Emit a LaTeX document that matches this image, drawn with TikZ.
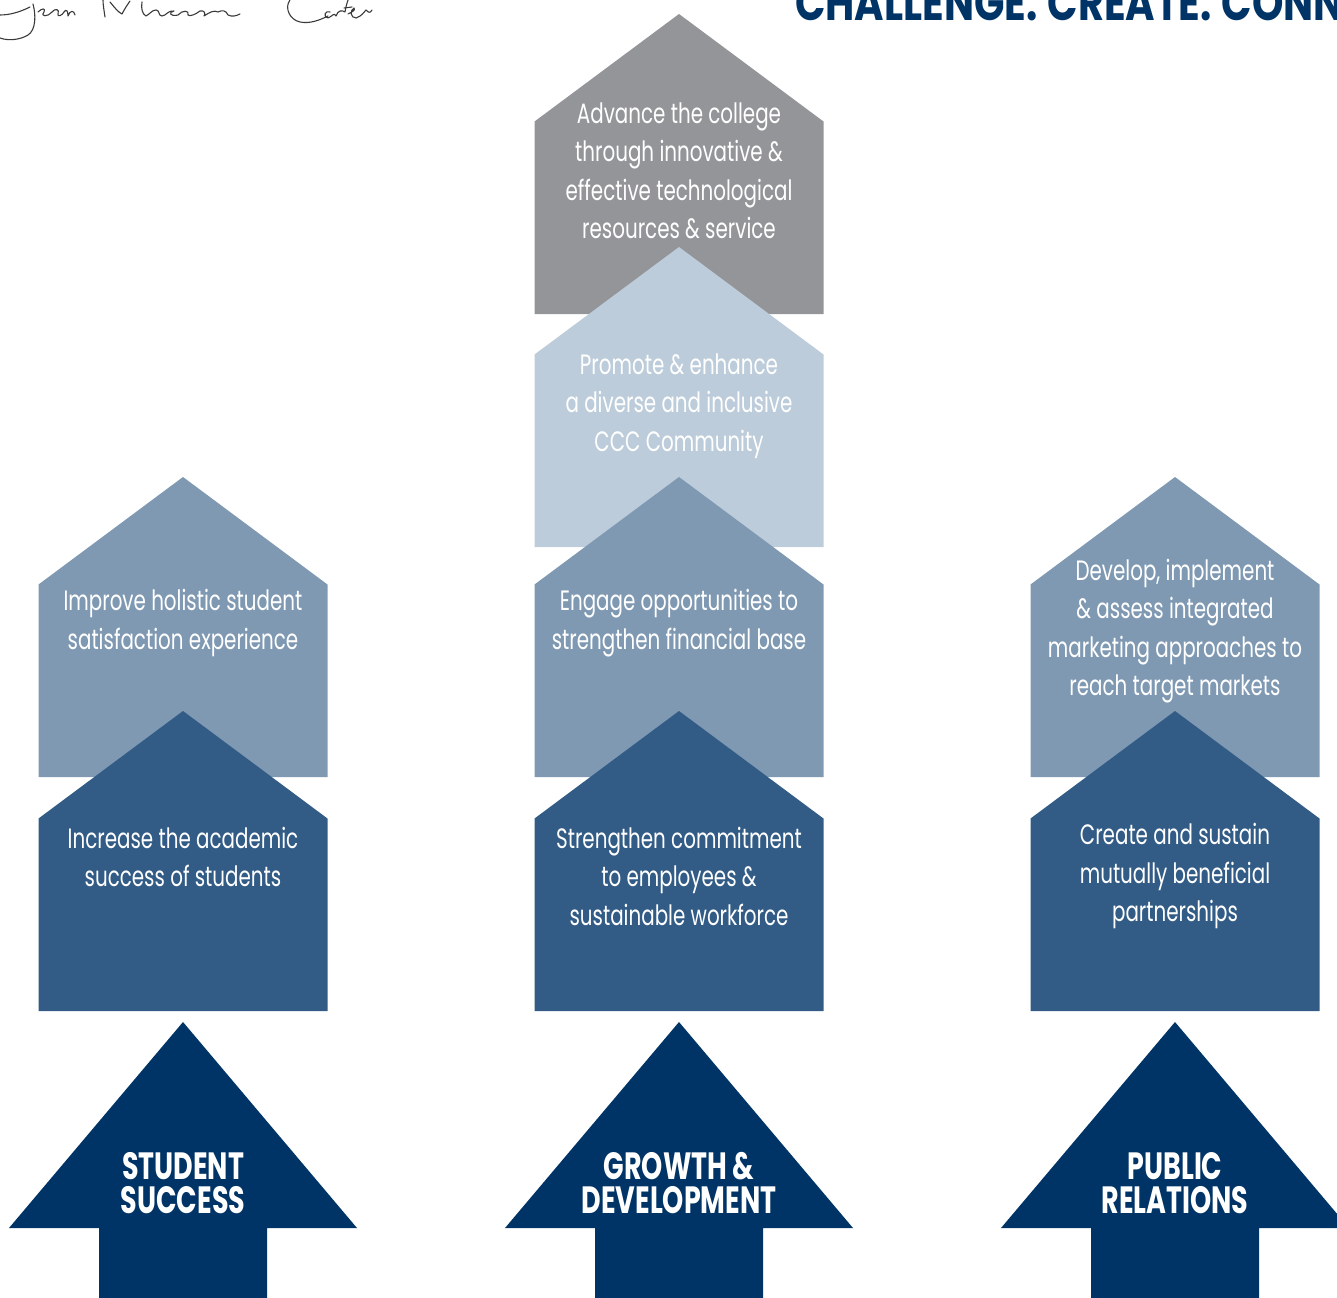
\documentclass[tikz,border=0pt]{standalone}
\usepackage{fontspec}
\setmainfont{Poppins}[FakeStretch=0.71]
\newfontfamily\titlefont{Poppins}[FakeStretch=0.8]
\definecolor{cgray}{HTML}{939598}
\definecolor{cpale}{HTML}{BDCCDA}
\definecolor{cmid}{HTML}{7F99B3}
\definecolor{cdark}{HTML}{325C86}
\definecolor{cnavy}{HTML}{003466}
\definecolor{cink}{HTML}{3A3A3A}
\newcommand\pentashape[3]{%
  \fill[#3] (#1,#2) -- (#1+144.5,#2+107.5) -- (#1+144.5,#2+300) -- (#1-144.5,#2+300) -- (#1-144.5,#2+107.5) -- cycle;}
\newcommand\arrowshape[1]{%
  \fill[cnavy] (#1,1022) -- (#1+174,1228) -- (#1+84,1228) -- (#1+84,1300) -- (#1-84,1300) -- (#1-84,1228) -- (#1-174,1228) -- cycle;}
\tikzset{
  goaltext/.style={text=white, align=center, inner sep=0pt,
    font=\fontsize{28}{38.5}\selectfont},
  pillartext/.style={text=white, anchor=base, inner sep=0pt,
    font=\bfseries\fontsize{38}{38}\selectfont},
  sigline/.style={draw=cink, line width=1.1pt, line cap=round, line join=round}
}
\begin{document}
\begin{tikzpicture}[x=1pt,y=-1pt]
\useasboundingbox (0,0) rectangle (1337,1297);
% title
\node[anchor=base west, inner sep=0pt, text=cnavy, font=\titlefont\bfseries\fontsize{50}{50}\selectfont] (title) at (795,21) {CHALLENGE.\hspace{10pt}CREATE.\hspace{10pt}CONNECT.};
% signature
\draw[sigline] (0,15) .. controls (10,15) and (20,12) .. (30,7);
\draw[sigline] (33,4) .. controls (36,15) and (36,30) .. (28,35) .. controls (20,40) and (8,41) .. (0,38);
\draw[sigline] (38,12) .. controls (42,8) and (46,8) .. (44,12) .. controls (40,17) and (48,17) .. (52,12) .. controls (55,8) and (60,9) .. (58,14) .. controls (57,17) and (62,16) .. (64,12) .. controls (66,9) and (68,10) .. (68,16) .. controls (70,10) and (74,10) .. (75,15);
\draw[sigline] (105,17) .. controls (104,10) and (103,5) .. (103,0);
\draw[sigline] (110,2) .. controls (115,8) and (118,12) .. (122,14) .. controls (125,8) and (128,4) .. (130,1);
\draw[sigline] (142,2) .. controls (141,8) and (142,14) .. (146,16) .. controls (150,14) and (152,10) .. (156,10) .. controls (160,10) and (158,16) .. (162,16) .. controls (166,16) and (168,10) .. (174,11) .. controls (168,12) and (170,17) .. (178,15) .. controls (182,10) and (190,10) .. (188,15) .. controls (190,17) and (196,14) .. (200,11) .. controls (204,10) and (206,13) .. (204,16) .. controls (210,12) and (214,10) .. (218,12) .. controls (222,10) and (226,10) .. (228,15) .. controls (232,17) and (236,16) .. (240,14);
\draw[sigline] (290,0) .. controls (284,8) and (290,20) .. (300,22) .. controls (310,24) and (320,20) .. (328,16);
\draw[sigline] (330,12) .. controls (326,10) and (322,16) .. (328,18) .. controls (333,16) and (334,12) .. (336,16) .. controls (338,10) and (342,10) .. (345,12) .. controls (346,6) and (347,3) .. (348,0);
\draw[sigline] (344,8) -- (352,7);
\draw[sigline] (348,14) .. controls (352,12) and (356,10) .. (354,8) .. controls (350,10) and (350,18) .. (356,18) .. controls (362,16) and (364,12) .. (366,10) .. controls (368,12) and (370,14) .. (372,10);
% column 1
\pentashape{183}{477}{cmid}
\node[goaltext] (g1a) at (183,623) {Improve holistic student\\satisfaction experience};
\pentashape{183}{711}{cdark}
\node[goaltext] (g1b) at (183,857) {Increase the academic\\success of students};
\arrowshape{183}
\node[pillartext] (p1a) at (183,1179) {STUDENT};
\node[pillartext] (p1b) at (183,1213) {SUCCESS};
% column 2
\pentashape{679}{14}{cgray}
\node[goaltext] (g2a) at (679,171) {Advance the college\\through innovative \&\\effective technological\\resources \& service};
\pentashape{679}{247}{cpale}
\node[goaltext] (g2b) at (679,406) {Promote \& enhance\\a diverse and inclusive\\CCC Community};
\pentashape{679}{477}{cmid}
\node[goaltext] (g2c) at (679,623) {Engage opportunities to\\strengthen financial base};
\pentashape{679}{711}{cdark}
\node[goaltext] (g2d) at (679,876) {Strengthen commitment\\to employees \&\\sustainable workforce};
\arrowshape{679}
\node[pillartext] (p2a) at (679,1179) {GROWTH \&};
\node[pillartext] (p2b) at (679,1213) {DEVELOPMENT};
% column 3
\pentashape{1175}{477}{cmid}
\node[goaltext] (g3a) at (1175,631) {Develop, implement\\\& assess integrated\\marketing approaches to\\reach target markets};
\pentashape{1175}{711}{cdark}
\node[goaltext] (g3b) at (1175,876) {Create and sustain\\mutually beneficial\\partnerships};
\arrowshape{1175}
\node[pillartext] (p3a) at (1175,1179) {PUBLIC};
\node[pillartext] (p3b) at (1175,1213) {RELATIONS};
\end{tikzpicture}
\end{document}
